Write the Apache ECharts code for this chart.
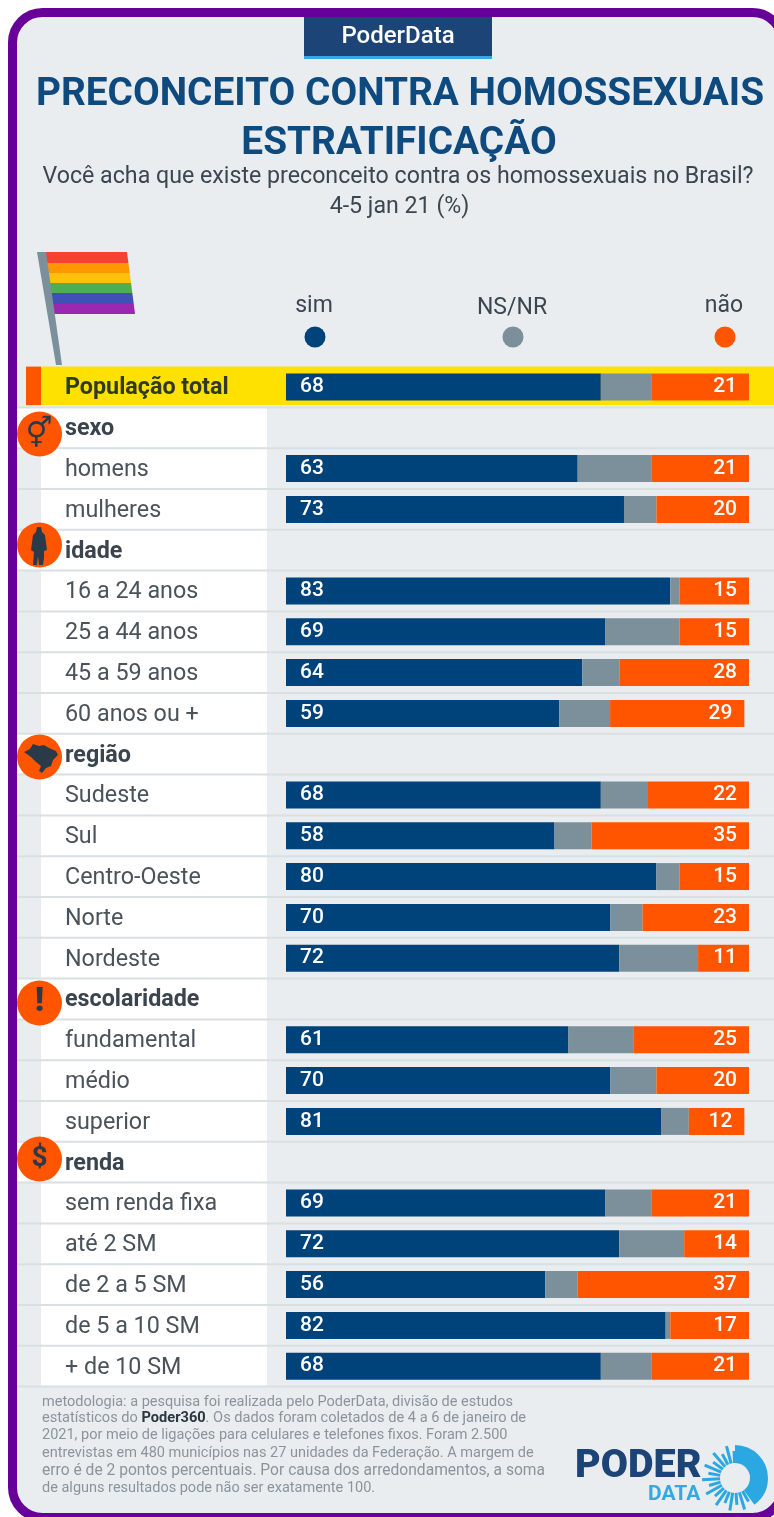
<!DOCTYPE html>
<html>
<head>
<meta charset="utf-8">
<style>html,body{margin:0;padding:0;background:#fff}#c{width:774px;height:1517px}</style>
<script src="https://cdn.jsdelivr.net/npm/echarts@6/dist/echarts.min.js"></script>
</head>
<body>
<div id="c"></div>
<script>
const categories = ['População total','sexo','homens','mulheres','idade','16 a 24 anos','25 a 44 anos','45 a 59 anos','60 anos ou +','região','Sudeste','Sul','Centro-Oeste','Norte','Nordeste','escolaridade','fundamental','médio','superior','renda','sem renda fixa','até 2 SM','de 2 a 5 SM','de 5 a 10 SM','+ de 10 SM'];
const headers = ['sexo','idade','região','escolaridade','renda'];
const sim  = [68,null,63,73,null,83,69,64,59,null,68,58,80,70,72,null,61,70,81,null,69,72,56,82,68];
const nsnr = [11,null,16,7,null,2,16,8,11,null,10,8,5,7,17,null,14,10,6,null,10,14,7,1,11];
const nao  = [21,null,21,20,null,15,15,28,29,null,22,35,15,23,11,null,25,20,12,null,21,14,37,17,21];
const seriesNames = ['sim','NS/NR','não'];
const titleLines = ['PRECONCEITO CONTRA HOMOSSEXUAIS','ESTRATIFICAÇÃO'];
const subtitleLines = ['Você acha que existe preconceito contra os homossexuais no Brasil?','4-5 jan 21 (%)'];
const footerLines = [
 'metodologia: a pesquisa foi realizada pelo PoderData, divisão de estudos',
 'estatísticos do {b|Poder360}. Os dados foram coletados de 4 a 6 de janeiro de',
 '2021, por meio de ligações para celulares e telefones fixos. Foram 2.500',
 'entrevistas em 480 municípios nas 27 unidades da Federação. A margem de',
 'erro é de 2 pontos percentuais. Por causa dos arredondamentos, a soma',
 'de alguns resultados pode não ser exatamente 100.'
];
const NAVY='#00427a', GREY='#7c909c', ORANGE='#ff5500', YELLOW='#ffe100', BG='#e9edf0', LINE='#d9e0e3', INK='#3c4650', FONT='Roboto';
const gridTop=366.6, rowH=40.8, gridLeft=286, unit=4.63;
const g=[];
const rect=(x,y,w,h,fill,z)=>g.push({type:'rect',shape:{x,y,width:w,height:h},style:{fill},z:z===undefined?-10:z,silent:true});
const poly=(points,fill,z)=>g.push({type:'polygon',shape:{points},style:{fill},z:z===undefined?5:z,silent:true});
const txt=(x,y,text,o)=>g.push({type:'text',x,y,z:o.z||20,silent:true,style:Object.assign({text,fontFamily:FONT,align:'center',verticalAlign:'middle'},o.style)});

// frame
g.push({type:'rect',shape:{x:12.5,y:12.5,width:770,height:1505,r:30},style:{fill:BG,stroke:'#660099',lineWidth:9},z:-20,silent:true});
// badge
rect(304,17,188,41,'#1c4477',1); rect(304,56,188,3,'#35a8e0',2);
txt(398,37,'PoderData',{style:{fill:'#fff',fontSize:24,fontWeight:500}});
// rows
categories.forEach((c,i)=>{
  const y=gridTop+i*rowH;
  if(i===0) return;
  const header=headers.includes(c);
  rect(header?17:41,y,(header?250:226),rowH,'#fff',-9);
  rect(17,y-1,757,2,LINE,-8);
});
rect(17,gridTop+25*rowH-1,757,2,LINE,-8);
rect(41,gridTop,733,38.5,YELLOW,-7);
rect(26,gridTop,15,38.5,ORANGE,-7);
// flag
poly([[37,252],[46,252],[62,365],[56,365]],GREY,3);
const flag=['#f44336','#ff9800','#ffc107','#4caf50','#3f51b5','#9c27b0'];
const ys=[252,263,273,283,293,304,314];
flag.forEach((f,i)=>{
  const a=ys[i],b=ys[i+1];
  const l=t=>44+(t-252)*0.13, r=t=>127+(t-252)*0.13;
  poly([[l(a),a],[r(a),a],[r(b),b],[l(b),b]],f,2);
});
// legend
const legendX=[314,512,724], legendY=[306,308,306], legendC=[NAVY,GREY,ORANGE];
seriesNames.forEach((n,i)=>{
  txt(legendX[i],legendY[i],n,{style:{fill:INK,fontSize:23}});
  g.push({type:'circle',shape:{cx:legendX[i]+1,cy:337,r:10.5},style:{fill:legendC[i]},z:5,silent:true});
});
// section icons
const icon=(cy)=>g.push({type:'circle',shape:{cx:39.5,cy,r:22.5},style:{fill:ORANGE},z:6,silent:true});
const DARK='#2a3a48';
[434,545,757,1003,1159].forEach(icon);
txt(39,435,'⚥',{style:{fill:DARK,fontSize:30,fontFamily:'DejaVu Sans'}});
// person
poly([[37,527],[41,527],[42,532],[45,535],[47,550],[44,551],[44,558],[43,565],[39,565],[38,556],[37,565],[33,565],[34,552],[31,550],[33,535],[36,532]],DARK,7);
// Brazil
poly([[24,752],[30,749],[33,744],[39,746],[44,745],[49,748],[56,751],[58,755],[53,760],[51,766],[46,768],[42,773],[39,771],[41,766],[36,762],[31,757]],DARK,7);
txt(39.5,1002,'!',{style:{fill:DARK,fontSize:34,fontWeight:900}});
txt(39.5,1159,'$',{style:{fill:DARK,fontSize:28,fontWeight:700}});
// footer
const footerY=[1402,1418,1435,1453,1471,1488], footerSize=[14.5,14.6,14.5,14.5,15.6,14.5];
footerLines.forEach((t,i)=>{
  g.push({type:'text',x:42,y:footerY[i],z:20,silent:true,style:{
    text:t,fontFamily:FONT,fontSize:footerSize[i],fill:'#8b949c',verticalAlign:'middle',
    rich:{b:{fontFamily:FONT,fontSize:footerSize[i],fontWeight:700,fill:'#2c3640'}}}});
});
// logo
g.push({type:'text',x:575,y:1467,z:20,silent:true,style:{text:'PODER',fontFamily:FONT,fontSize:39.5,fontWeight:900,fill:'#1c4477',verticalAlign:'middle'}});
g.push({type:'text',x:648,y:1495,z:20,silent:true,style:{text:'DATA',fontFamily:FONT,fontSize:21,fontWeight:700,fill:'#35a8e0',verticalAlign:'middle'}});
g.push({type:'sector',shape:{cx:735,cy:1478,r:33,r0:15,startAngle:-Math.PI*0.5,endAngle:Math.PI*0.3},style:{fill:'#2ba8e2'},z:6,silent:true});
for(let d=60;d<=270;d+=13){
  const a=d*Math.PI/180,r1=15,r2=d%2?33:27;
  g.push({type:'line',shape:{x1:735+r1*Math.cos(a),y1:1478+r1*Math.sin(a),x2:735+r2*Math.cos(a),y2:1478+r2*Math.sin(a)},style:{stroke:'#2ba8e2',lineWidth:3},z:6,silent:true});
}

const label=(position,distance)=>({show:true,position,distance,color:'#fff',fontFamily:FONT,fontSize:21,fontWeight:500});
const titleStyle={fontFamily:FONT,fontSize:38.8,fontWeight:700,color:'#0f4a7f'};
const subStyle={fontFamily:FONT,fontSize:23.2,fontWeight:400,color:INK};
const opt={
  animation:false,
  textStyle:{fontFamily:FONT},
  title:[
    {text:titleLines[0],left:395,top:71,textAlign:'center',textStyle:titleStyle},
    {text:titleLines[1],left:394,top:120,textAlign:'center',textStyle:titleStyle},
    {text:subtitleLines[0],left:393,top:161,textAlign:'center',textStyle:subStyle},
    {text:subtitleLines[1],left:394.5,top:191,textAlign:'center',textStyle:subStyle}
  ],
  grid:{left:gridLeft,top:gridTop,width:unit*100,height:rowH*25,containLabel:false},
  xAxis:{type:'value',min:0,max:100,show:false},
  yAxis:{type:'category',inverse:true,data:categories,axisLine:{show:false},axisTick:{show:false},
    axisLabel:{margin:221,align:'left',interval:0,
      formatter:v=>v===categories[0]?`{t|${v}}`:headers.includes(v)?`{h|${v}}`:`{n|${v}}`,
      rich:{
        t:{fontFamily:FONT,fontSize:23.3,fontWeight:700,color:'#2f3a1e',padding:[3,0,0,0]},
        h:{fontFamily:FONT,fontSize:23.3,fontWeight:700,color:'#3a444e',padding:[3,0,0,0]},
        n:{fontFamily:FONT,fontSize:23.3,color:'#4a525a',padding:[3,0,0,0]}
      }}},
  series:[
    {name:seriesNames[0],type:'bar',stack:'a',data:sim,barWidth:27,itemStyle:{color:NAVY},label:label('insideLeft',14)},
    {name:seriesNames[1],type:'bar',stack:'a',data:nsnr,barWidth:27,itemStyle:{color:GREY}},
    {name:seriesNames[2],type:'bar',stack:'a',data:nao,barWidth:27,itemStyle:{color:ORANGE},label:label('insideRight',12)}
  ],
  graphic:g
};
const chart=echarts.init(document.getElementById('c'),null,{renderer:'canvas'});
chart.setOption(opt);
</script>
</body>
</html>
